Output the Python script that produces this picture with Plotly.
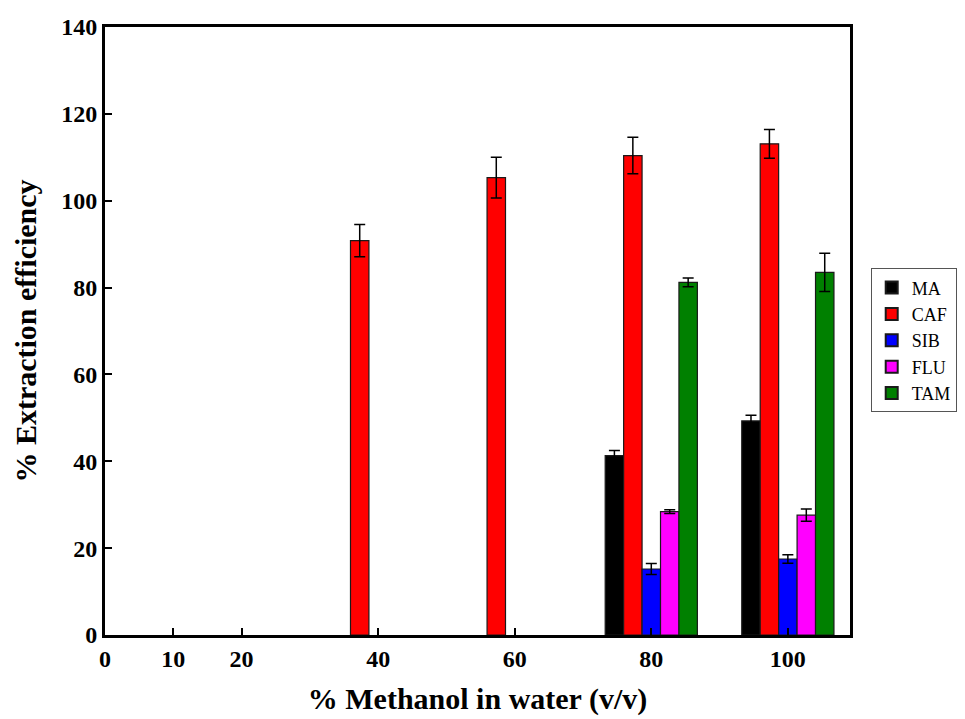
import plotly.graph_objects as go

# Data
methanol_pct = [0, 10, 20, 40, 60, 80, 100]
x_tick_vals = [0, 10, 20, 40, 60, 80, 100]
x_tick_text = ["0", "10", "20", "40", "60", "80", "100"]

series_names = ["MA", "CAF", "SIB", "FLU", "TAM"]
ma_vals = [0, 0, 0, 0, 0, 41.3, 49.3]
caf_vals = [0, 0, 0, 90.8, 105.3, 110.4, 113.1]
sib_vals = [0, 0, 0, 0, 0, 15.2, 17.5]
flu_vals = [0, 0, 0, 0, 0, 28.4, 27.6]
tam_vals = [0, 0, 0, 0, 0, 81.2, 83.5]

ma_err = [None, None, None, None, None, 1.2, 1.3]
caf_err = [None, None, None, 3.7, 4.7, 4.2, 3.3]
sib_err = [None, None, None, None, None, 1.25, 0.95]
flu_err = [None, None, None, None, None, 0.45, 1.4]
tam_err = [None, None, None, None, None, 1.0, 4.4]

colors = ["#000000", "#FF0000", "#0000FF", "#FF00FF", "#008000"]

values = [ma_vals, caf_vals, sib_vals, flu_vals, tam_vals]
errors = [ma_err, caf_err, sib_err, flu_err, tam_err]

bar_w = 2.7
fig = go.Figure()
n = len(series_names)
for i, (name, vals, errs, col) in enumerate(zip(series_names, values, errors, colors)):
    shown = [v if v else None for v in vals]  # zero bars are not drawn
    fig.add_trace(go.Bar(
        x=methanol_pct, y=shown, name=name,
        width=bar_w, offset=-n * bar_w / 2 + i * bar_w,
        marker=dict(color=col, line=dict(color="#1a1a1a", width=1.2)),
        error_y=dict(type="data", array=errs, visible=True,
                     color="#000000", thickness=1.5, width=5.5),
    ))

font_family = "Liberation Serif, Times New Roman, serif"
fig.update_layout(
    width=965, height=719,
    margin=dict(l=97, r=123, t=19, b=92, autoexpand=False),
    paper_bgcolor="white", plot_bgcolor="white",
    barmode="overlay",
    font=dict(family=font_family, color="black"),
    showlegend=True,
    legend=dict(
        xref="container", yref="container",
        x=0.894, y=0.638, xanchor="left", yanchor="top",
        bordercolor="#555555", borderwidth=1, bgcolor="white",
        font=dict(family=font_family, size=18, color="black"),
        tracegroupgap=0, itemsizing="constant", itemwidth=30,
    ),
    xaxis=dict(
        range=[0, 109.1],
        tickmode="array", tickvals=x_tick_vals, ticktext=x_tick_text,
        ticks="inside", ticklen=7, tickwidth=2, tickcolor="black",
        showline=True, linecolor="black", linewidth=3, mirror=True,
        showgrid=False, zeroline=False,
        tickfont=dict(family=font_family, size=24, color="black", weight="bold"),
        title=dict(text="<b>% Methanol in water (v/v)</b>",
                   font=dict(family=font_family, size=30, color="black"),
                   standoff=18),
    ),
    yaxis=dict(
        range=[0, 140], tickmode="linear", tick0=0, dtick=20,
        ticks="inside", ticklen=7, tickwidth=2, tickcolor="black",
        showline=True, linecolor="black", linewidth=3, mirror=True,
        showgrid=False, zeroline=False,
        tickfont=dict(family=font_family, size=24, color="black", weight="bold"),
        title=dict(text="<b>% Extraction efficiency</b>",
                   font=dict(family=font_family, size=30, color="black"),
                   standoff=16),
    ),
)

fig.write_html("out.html")
